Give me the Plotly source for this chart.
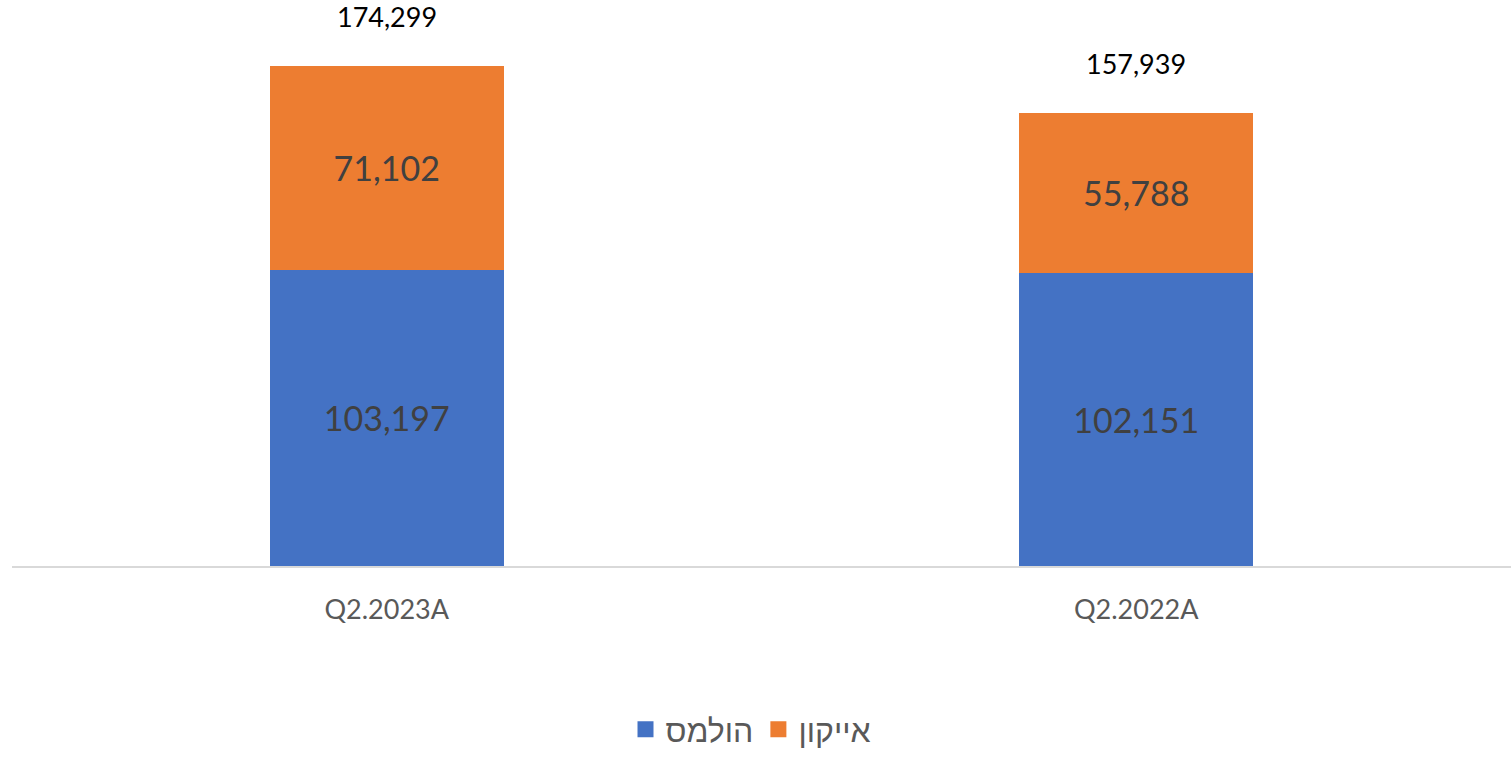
import plotly.graph_objects as go

categories = ["Q2.2023A", "Q2.2022A"]
holmes = [103197, 102151]
icon = [71102, 55788]
totals = [174299, 157939]
series_names = ["הולמס", "אייקון"]

FONT = "Lato, 'Liberation Sans', 'DejaVu Sans', sans-serif"
BLUE = "#4472C4"
ORANGE = "#ED7D31"
colors = [BLUE, ORANGE]

fig = go.Figure()
for name, vals, col in zip(series_names, [holmes, icon], colors):
    fig.add_trace(go.Bar(
        x=categories, y=vals, name=name, marker_color=col, showlegend=False,
        text=[f"{v:,}" for v in vals], textposition="inside", insidetextanchor="middle",
        textfont=dict(size=34, color="#404040", family=FONT), marker_line_width=0,
        hoverinfo="x+y+name",
    ))

# legend entries with larger square symbols
for name, col in zip(series_names, colors):
    fig.add_trace(go.Scatter(
        x=[None], y=[None], mode="markers", name=name,
        marker=dict(symbol="square", size=16, color=col, line_width=0),
        showlegend=True,
    ))

for c, t in zip(categories, totals):
    fig.add_annotation(x=c, y=t, text=f"{t:,}", showarrow=False, yanchor="bottom",
                       yshift=31, font=dict(size=27, color="#000000", family=FONT))

ymax = max(totals) * 546 / 500
fig.update_layout(
    barmode="stack", bargap=0.688,
    width=1511, height=757,
    margin=dict(l=12, r=0, t=20, b=191),
    paper_bgcolor="white", plot_bgcolor="white",
    font=dict(family=FONT, color="#595959"),
    legend=dict(orientation="h", x=0.493, xanchor="center", y=-0.30, yanchor="middle",
                font=dict(size=32, color="#595959", family=FONT), traceorder="normal",
                itemsizing="trace", itemwidth=30),
    xaxis=dict(showline=True, linecolor="#D9D9D9", linewidth=2, ticks="",
               tickfont=dict(size=27, color="#595959", family=FONT), ticklabelstandoff=19,
               showgrid=False),
    yaxis=dict(range=[0, ymax], showticklabels=False, showgrid=False, zeroline=False,
               showline=False),
)

fig.write_html("out.html", config={"displayModeBar": False},
               post_script="document.body.style.margin='0px';")
